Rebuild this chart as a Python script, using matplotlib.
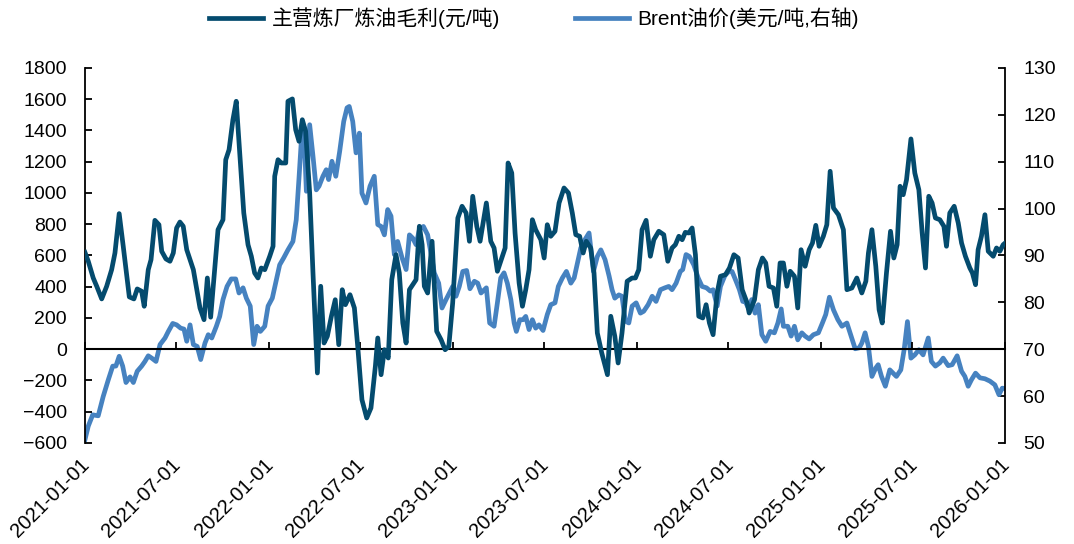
import numpy as np
import pandas as pd
import matplotlib
matplotlib.use("Agg")
import matplotlib.pyplot as plt
import matplotlib.transforms as mtransforms

plt.rcParams['font.family'] = ['Liberation Sans', 'Noto Sans CJK SC', 'DejaVu Sans']

# time, in years after 2021-01-01
margin_t = [0.000, 0.018, 0.045, 0.064, 0.091, 0.118, 0.145, 0.163, 0.186, 0.208,
            0.241, 0.266, 0.284, 0.308, 0.322, 0.344, 0.359, 0.380, 0.402, 0.417,
            0.440, 0.462, 0.480, 0.498, 0.516, 0.534, 0.553, 0.589, 0.625, 0.647,
            0.665, 0.683, 0.723, 0.750, 0.765, 0.783, 0.804, 0.822, 0.841, 0.863,
            0.886, 0.904, 0.922, 0.940, 0.958, 0.977, 1.004, 1.022, 1.031, 1.049,
            1.067, 1.091, 1.103, 1.127, 1.145, 1.163, 1.181, 1.199, 1.221, 1.239,
            1.263, 1.281, 1.299, 1.317, 1.339, 1.360, 1.379, 1.398, 1.415, 1.440,
            1.464, 1.482, 1.505, 1.531, 1.554, 1.578, 1.591, 1.609, 1.627, 1.648,
            1.667, 1.690, 1.708, 1.727, 1.745, 1.763, 1.799, 1.817, 1.832, 1.844,
            1.862, 1.886, 1.911, 1.935, 1.957, 1.977, 1.998, 2.026, 2.049, 2.071,
            2.089, 2.107, 2.129, 2.147, 2.159, 2.181, 2.205, 2.223, 2.241, 2.259,
            2.283, 2.299, 2.319, 2.337, 2.359, 2.377, 2.395, 2.413, 2.431, 2.449,
            2.477, 2.495, 2.512, 2.531, 2.554, 2.576, 2.603, 2.627, 2.648, 2.667,
            2.688, 2.707, 2.724, 2.748, 2.766, 2.784, 2.808, 2.839, 2.857, 2.879,
            2.897, 2.918, 2.946, 2.973, 2.991, 3.009, 3.027, 3.049, 3.072, 3.091,
            3.118, 3.145, 3.167, 3.190, 3.208, 3.227, 3.245, 3.262, 3.281, 3.299,
            3.317, 3.335, 3.357, 3.375, 3.393, 3.413, 3.435, 3.453, 3.480, 3.502,
            3.526, 3.549, 3.571, 3.598, 3.609, 3.638, 3.659, 3.681, 3.699, 3.717,
            3.741, 3.759, 3.777, 3.795, 3.814, 3.832, 3.855, 3.873, 3.891, 3.913,
            3.935, 3.953, 3.971, 3.989, 4.012, 4.031, 4.049, 4.067, 4.094, 4.121,
            4.140, 4.167, 4.194, 4.221, 4.243, 4.257, 4.276, 4.297, 4.315, 4.332,
            4.355, 4.377, 4.395, 4.413, 4.429, 4.446, 4.464, 4.488, 4.509, 4.531,
            4.549, 4.567, 4.585, 4.603, 4.621, 4.645, 4.667, 4.681, 4.699, 4.723,
            4.745, 4.763, 4.784, 4.808, 4.822, 4.839, 4.853, 4.871, 4.890, 4.908,
            4.935, 4.953, 4.971, 4.989, 5.000]
margin = [620, 563, 456, 403, 322, 403, 509, 616, 868, 659,
          335, 322, 386, 371, 275, 509, 573, 825, 797, 627,
          578, 563, 616, 776, 814, 787, 637, 509, 264, 189,
          456, 205, 765, 829, 1213, 1277, 1469, 1587, 1256, 872,
          669, 595, 488, 456, 520, 509, 595, 659, 1107, 1213,
          1192, 1192, 1587, 1602, 1405, 1331, 1469, 1395, 1000, 488,
          -152, 403, 40, 83, 211, 317, 29, 381, 285, 349,
          264, 19, -323, -440, -376, -109, 72, -163, -3, -56,
          445, 605, 488, 168, 40, 381, 445, 787, 669, 403,
          360, 691, 115, 61, -3, 19, 296, 840, 915, 872,
          691, 979, 787, 691, 776, 936, 691, 648, 499, 563,
          648, 1192, 1128, 744, 424, 275, 381, 509, 829, 765,
          701, 584, 797, 723, 755, 936, 1032, 1000, 872, 733,
          723, 616, 691, 648, 488, 104, -24, -163, 211, 83,
          -88, 104, 435, 456, 456, 509, 765, 825, 595, 701,
          755, 733, 563, 648, 669, 723, 701, 748, 744, 776,
          605, 211, 200, 285, 168, 93, 360, 467, 477, 520,
          605, 584, 381, 296, 232, 317, 509, 584, 552, 403,
          392, 275, 552, 552, 403, 499, 467, 264, 637, 531,
          637, 680, 793, 659, 723, 797, 1139, 904, 861, 765,
          381, 392, 456, 360, 435, 616, 765, 531, 253, 168,
          488, 755, 584, 669, 1043, 989, 1085, 1346, 1128, 1021,
          744, 520, 979, 936, 840, 829, 787, 659, 872, 915,
          808, 680, 595, 520, 488, 413, 637, 723, 861, 627,
          595, 648, 627, 669, 680]

brent_t = [0.000, 0.018, 0.042, 0.072, 0.099, 0.127, 0.151, 0.168, 0.186, 0.205,
           0.223, 0.245, 0.263, 0.284, 0.308, 0.326, 0.344, 0.363, 0.386, 0.408,
           0.435, 0.453, 0.477, 0.498, 0.520, 0.538, 0.553, 0.571, 0.589, 0.610,
           0.629, 0.652, 0.670, 0.689, 0.714, 0.732, 0.750, 0.772, 0.795, 0.819,
           0.837, 0.859, 0.877, 0.898, 0.917, 0.935, 0.953, 0.977, 0.995, 1.018,
           1.040, 1.058, 1.080, 1.103, 1.130, 1.148, 1.163, 1.176, 1.189, 1.203,
           1.221, 1.239, 1.257, 1.272, 1.293, 1.311, 1.324, 1.342, 1.363, 1.384,
           1.406, 1.424, 1.436, 1.455, 1.473, 1.491, 1.505, 1.527, 1.549, 1.572,
           1.591, 1.609, 1.627, 1.645, 1.663, 1.681, 1.699, 1.723, 1.745, 1.763,
           1.781, 1.799, 1.817, 1.839, 1.862, 1.880, 1.898, 1.922, 1.940, 1.962,
           1.980, 1.998, 2.016, 2.034, 2.053, 2.074, 2.092, 2.116, 2.134, 2.152,
           2.181, 2.199, 2.223, 2.241, 2.259, 2.277, 2.295, 2.314, 2.332, 2.344,
           2.363, 2.380, 2.395, 2.413, 2.431, 2.449, 2.467, 2.489, 2.512, 2.531,
           2.554, 2.572, 2.594, 2.616, 2.640, 2.658, 2.676, 2.694, 2.717, 2.739,
           2.763, 2.784, 2.803, 2.826, 2.848, 2.864, 2.879, 2.901, 2.918, 2.936,
           2.955, 2.973, 2.995, 3.018, 3.036, 3.060, 3.082, 3.103, 3.127, 3.151,
           3.172, 3.190, 3.212, 3.235, 3.248, 3.266, 3.284, 3.308, 3.332, 3.353,
           3.377, 3.398, 3.413, 3.435, 3.453, 3.477, 3.498, 3.516, 3.538, 3.556,
           3.574, 3.587, 3.605, 3.623, 3.641, 3.659, 3.678, 3.699, 3.723, 3.746,
           3.765, 3.783, 3.795, 3.819, 3.837, 3.855, 3.873, 3.895, 3.913, 3.935,
           3.958, 3.985, 4.007, 4.025, 4.045, 4.067, 4.091, 4.113, 4.140, 4.163,
           4.185, 4.207, 4.221, 4.239, 4.257, 4.276, 4.297, 4.310, 4.328, 4.349,
           4.373, 4.391, 4.409, 4.433, 4.451, 4.469, 4.488, 4.509, 4.531, 4.554,
           4.582, 4.599, 4.621, 4.645, 4.663, 4.690, 4.712, 4.739, 4.763, 4.781,
           4.799, 4.817, 4.839, 4.863, 4.890, 4.917, 4.944, 4.966, 4.984, 5.000]
brent = [50.7, 53.6, 56.0, 55.8, 59.9, 63.5, 66.4, 66.4, 68.5, 66.4,
         62.9, 64.1, 62.9, 65.3, 66.4, 67.4, 68.6, 68.1, 67.4, 71.0,
         72.4, 73.8, 75.5, 75.2, 74.5, 74.3, 71.7, 75.2, 71.0, 70.6,
         67.8, 71.3, 73.1, 72.4, 74.9, 77.0, 80.6, 83.4, 85.0, 85.0,
         82.0, 83.1, 80.9, 79.2, 71.0, 74.9, 73.8, 74.9, 79.2, 80.9,
         84.8, 88.0, 89.5, 91.2, 93.0, 97.6, 106.5, 114.7, 117.6, 103.7,
         117.9, 111.2, 104.0, 104.8, 106.9, 108.3, 106.2, 110.1, 106.9, 112.2,
         118.6, 121.5, 121.8, 118.6, 111.9, 116.1, 103.3, 101.2, 104.8, 106.9,
         96.6, 96.2, 94.4, 99.8, 98.4, 90.2, 93.0, 89.5, 87.0, 94.4,
         93.7, 92.3, 95.5, 96.2, 94.4, 90.5, 86.3, 84.1, 78.8, 80.6,
         82.0, 83.4, 81.3, 83.4, 86.6, 86.8, 82.9, 84.5, 84.1, 82.0,
         83.1, 75.6, 74.9, 79.9, 85.2, 86.3, 84.1, 80.6, 75.6, 73.8,
         76.3, 76.3, 77.0, 74.2, 76.3, 74.5, 75.2, 74.0, 77.4, 79.5,
         79.9, 83.4, 85.2, 86.6, 84.1, 85.2, 88.4, 91.6, 93.4, 94.8,
         86.6, 89.8, 91.2, 89.1, 85.6, 82.7, 80.9, 81.6, 81.3, 76.0,
         75.6, 79.2, 79.9, 77.7, 78.1, 79.5, 81.3, 80.2, 82.7, 83.1,
         83.4, 82.7, 84.1, 86.6, 87.0, 90.2, 89.8, 88.0, 85.2, 83.4,
         83.1, 82.4, 82.7, 79.2, 83.4, 85.7, 86.6, 86.6, 84.5, 82.7,
         80.2, 80.2, 78.8, 80.6, 77.7, 79.5, 73.1, 71.7, 73.8, 73.5,
         75.6, 78.6, 74.9, 74.9, 72.8, 74.9, 72.0, 73.5, 72.8, 72.2,
         73.1, 73.5, 75.6, 77.4, 81.1, 78.4, 76.3, 74.9, 75.6, 72.8,
         70.1, 70.3, 71.3, 73.5, 70.6, 64.2, 66.0, 66.7, 64.2, 62.1,
         65.6, 64.9, 64.2, 65.6, 69.9, 75.9, 68.1, 68.8, 69.9, 68.8,
         72.4, 67.4, 66.4, 67.1, 68.1, 66.5, 66.7, 68.6, 65.3, 64.2,
         62.1, 63.5, 64.9, 63.9, 63.7, 63.2, 62.4, 60.3, 61.7, 61.6]

x_ticks = ['2021-01-01', '2021-07-01', '2022-01-01', '2022-07-01', '2023-01-01',
           '2023-07-01', '2024-01-01', '2024-07-01', '2025-01-01', '2025-07-01',
           '2026-01-01']

start = pd.Timestamp('2021-01-01')
margin_dates = start + pd.to_timedelta(np.array(margin_t) * 365.25, unit='D')
brent_dates = start + pd.to_timedelta(np.array(brent_t) * 365.25, unit='D')

dark = '#044B6E'
light = '#4682C0'

fig = plt.figure(figsize=(10.74, 5.44), dpi=100)
ax = fig.add_axes([0.0791, 0.1857, 0.8567, 0.6893])
ax2 = ax.twinx()

l1, = ax.plot(margin_dates, margin, color=dark, lw=3.4, label='主营炼厂炼油毛利(元/吨)', zorder=3)
l2, = ax2.plot(brent_dates, brent, color=light, lw=3.4, label='Brent油价(美元/吨,右轴)', zorder=2)
ax.set_zorder(ax2.get_zorder() + 1)
ax.patch.set_visible(False)

ax.set_xlim(pd.Timestamp('2021-01-01'), pd.Timestamp('2026-01-01'))
ax.set_ylim(-600, 1800)
ax.set_yticks(np.arange(-600, 1801, 200))
ax2.set_ylim(50, 130)
ax2.set_yticks(np.arange(50, 131, 10))

tick_dates = pd.to_datetime(x_ticks)
ax.set_xticks(tick_dates)
ax.set_xticklabels(x_ticks, rotation=45, ha='right', rotation_mode='anchor', fontsize=14.5)
ax.tick_params(axis='x', length=0, pad=9)
shift = mtransforms.ScaledTranslation(-5 / 100, 0, fig.dpi_scale_trans)
for lab in ax.get_xticklabels():
    lab.set_transform(lab.get_transform() + shift)
ax.tick_params(axis='y', direction='in', length=5, width=1.3, labelsize=14, pad=13)
ax2.tick_params(axis='y', direction='in', length=5, width=1.3, labelsize=14, pad=13)

for a in (ax, ax2):
    a.spines['top'].set_visible(False)
    a.spines['bottom'].set_visible(False)
    a.spines['left'].set_linewidth(1.3)
    a.spines['right'].set_linewidth(1.3)
ax.spines['right'].set_visible(False)
ax2.spines['left'].set_visible(False)

# zero line with the date ticks on it
zero = ax.secondary_xaxis(600 / 2400)
zero.set_xticks(tick_dates)
zero.tick_params(direction='in', length=5, width=1.3, labelbottom=False, labeltop=False)
zero.spines['bottom'].set_linewidth(1.5)

fig.legend(handles=[l1, l2], loc='center', bbox_to_anchor=(0.497, 0.967), ncol=2,
           frameon=False, fontsize=15, handlelength=2.6, columnspacing=3.6, handletextpad=0.4)

fig.savefig('out.png', dpi=100)
